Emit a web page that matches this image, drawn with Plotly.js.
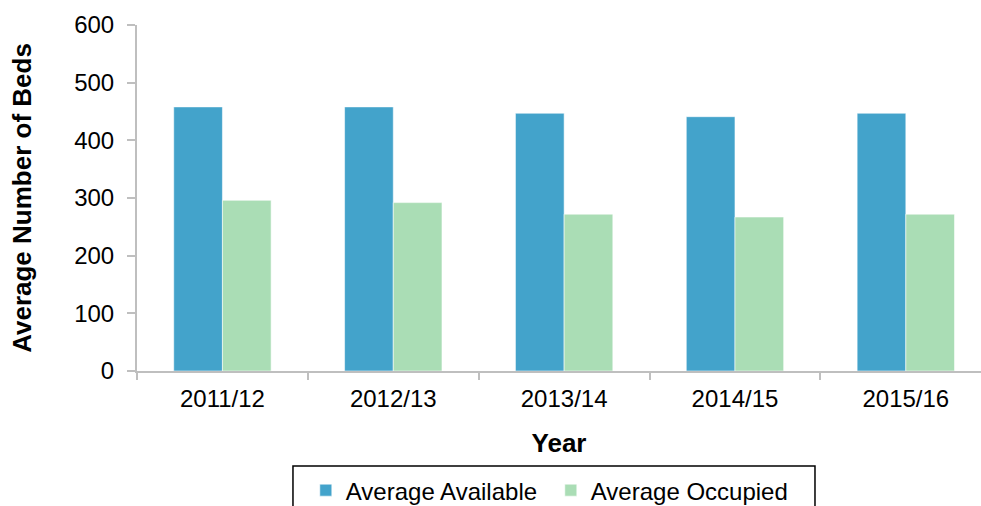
<!DOCTYPE html>
<html>
<head>
<meta charset="utf-8">
<script src="https://cdn.plot.ly/plotly-3.0.1.min.js"></script>
<style>html,body{margin:0;padding:0;background:#fff;}#chart{width:981px;height:506px;}</style>
</head>
<body>
<div id="chart"></div>
<script>
var years = ["2011/12", "2012/13", "2013/14", "2014/15", "2015/16"];
var availableBeds = [458, 458, 447, 441, 447];
var occupiedBeds = [296, 292, 272, 267, 272];
var seriesNames = ["Average Available", "Average Occupied"];
var yTickValues = [0, 100, 200, 300, 400, 500, 600];

var FONT = "Liberation Sans, Arial, sans-serif";

var traces = [
  {
    type: "bar",
    name: seriesNames[0],
    x: years,
    y: availableBeds,
    marker: {color: "#43A3CB", line: {color: "rgba(255,255,255,0.7)", width: 0.8}},
    hoverinfo: "x+y+name"
  },
  {
    type: "bar",
    name: seriesNames[1],
    x: years,
    y: occupiedBeds,
    marker: {color: "#AADDB5", line: {color: "rgba(255,255,255,0.7)", width: 0.8}},
    hoverinfo: "x+y+name"
  }
];

var layout = {
  width: 981,
  height: 506,
  margin: {l: 137, r: 0, t: 25, b: 135, pad: 0, autoexpand: false},
  paper_bgcolor: "#ffffff",
  plot_bgcolor: "#ffffff",
  font: {family: FONT, size: 24, color: "#000000"},
  barmode: "group",
  bargap: 0.43,
  bargroupgap: 0,
  showlegend: true,
  legend: {
    orientation: "h",
    xref: "paper",
    yref: "container",
    xanchor: "left",
    yanchor: "top",
    x: 0.2,
    y: 0.075,
    bgcolor: "rgba(0,0,0,0)",
    borderwidth: 0,
    font: {family: FONT, size: 24, color: "#000000"},
    entrywidth: 200,
    entrywidthmode: "pixels",
    itemclick: false,
    itemdoubleclick: false
  },
  xaxis: {
    type: "category",
    range: [-0.5, 4.44],
    showline: true,
    linecolor: "#BFBFBF",
    linewidth: 2,
    ticks: "outside",
    tickson: "boundaries",
    ticklen: 7,
    tickwidth: 2,
    tickcolor: "#BFBFBF",
    showgrid: false,
    zeroline: false,
    tickfont: {family: FONT, size: 24, color: "#000000"},
    ticklabelstandoff: 5,
    automargin: false,
    title: {
      text: "<b>Year</b>",
      font: {family: FONT, size: 26, color: "#000000"},
      standoff: 23
    }
  },
  yaxis: {
    range: [0, 600],
    tickvals: yTickValues,
    showline: true,
    linecolor: "#BFBFBF",
    linewidth: 2,
    ticks: "outside",
    ticklen: 8,
    tickwidth: 2,
    tickcolor: "#BFBFBF",
    showgrid: false,
    zeroline: false,
    tickfont: {family: FONT, size: 24, color: "#000000"},
    ticklabelstandoff: 8,
    automargin: false,
    title: {
      text: "<b>Average Number of Beds</b>",
      font: {family: FONT, size: 26, color: "#000000"},
      standoff: 35
    }
  },
  shapes: [
    {
      type: "rect",
      xref: "paper",
      yref: "paper",
      x0: 0.1848,
      x1: 0.8033,
      y0: -0.2746,
      y1: -0.45,
      line: {color: "#000000", width: 1.5},
      fillcolor: "rgba(0,0,0,0)",
      layer: "below"
    }
  ]
};

Plotly.newPlot("chart", traces, layout, {displayModeBar: false, staticPlot: true});
</script>
</body>
</html>
